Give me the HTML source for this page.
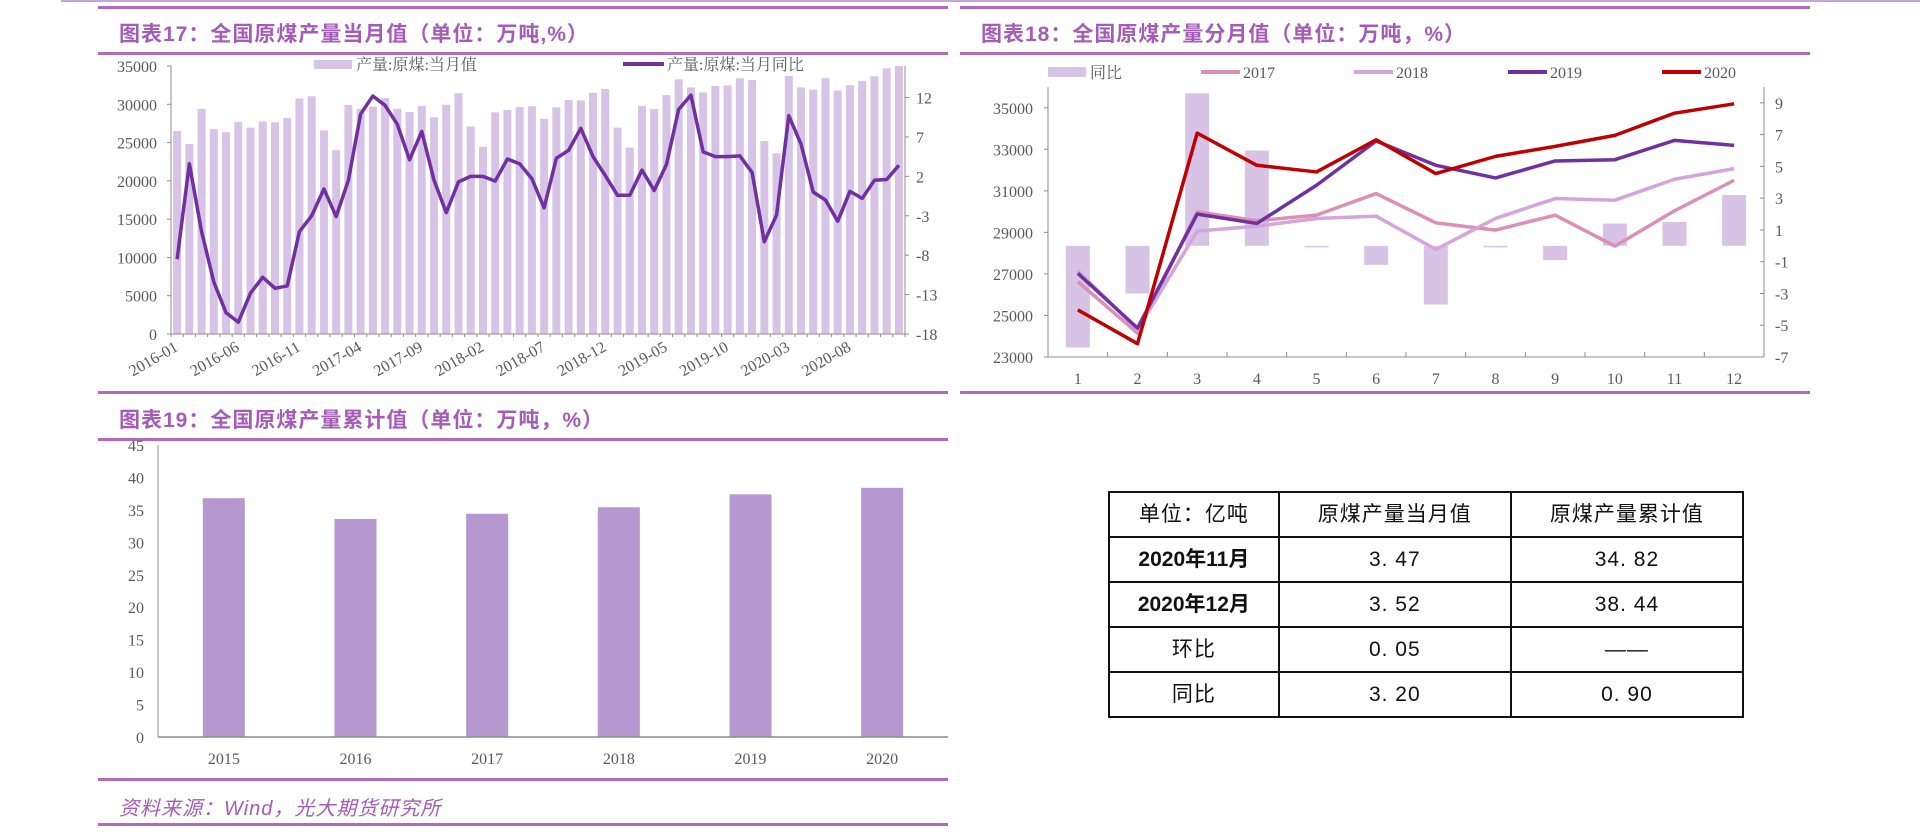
<!DOCTYPE html>
<html><head><meta charset="utf-8">
<style>
html,body{margin:0;padding:0;background:#fff;}
body{width:1920px;height:835px;position:relative;overflow:hidden;font-family:"Liberation Serif","Noto Serif CJK SC",serif;}
.title{position:absolute;color:#a45cb8;font-family:"Liberation Sans","Noto Sans CJK SC",sans-serif;font-size:21px;font-weight:bold;letter-spacing:1px;}
.hl{position:absolute;height:3px;background:#b06ac0;}
table{position:absolute;left:1108px;top:491px;width:636px;border-collapse:collapse;font-family:"Liberation Sans","Noto Sans CJK SC",sans-serif;font-size:21px;}
td{border:2px solid #111;height:43px;line-height:43px;vertical-align:middle;text-align:center;color:#111;padding:0;letter-spacing:1px;}
td.b{font-weight:bold;letter-spacing:0;}
</style></head>
<body>
<div class="hl" style="left:61px;top:0;width:1859px;height:2px;background:#c9a2d6"></div>
<div class="hl" style="left:98px;top:6px;width:850px"></div>
<div class="title" style="left:119px;top:18px">图表17：全国原煤产量当月值（单位：万吨,%）</div>
<div class="hl" style="left:98px;top:52px;width:850px"></div>
<div class="hl" style="left:98px;top:391px;width:850px"></div>

<div class="hl" style="left:960px;top:6px;width:850px"></div>
<div class="title" style="left:981px;top:18px">图表18：全国原煤产量分月值（单位：万吨，%）</div>
<div class="hl" style="left:960px;top:52px;width:850px"></div>
<div class="hl" style="left:960px;top:391px;width:850px"></div>

<div class="title" style="left:119px;top:404px">图表19：全国原煤产量累计值（单位：万吨，%）</div>
<div class="hl" style="left:98px;top:438px;width:850px"></div>
<div class="hl" style="left:98px;top:778px;width:850px"></div>
<div class="title" style="left:119px;top:792px;font-weight:normal;font-style:italic;font-size:20px">资料来源：Wind，光大期货研究所</div>
<div class="hl" style="left:98px;top:823px;width:850px"></div>

<svg id="svg" width="1920" height="835" style="position:absolute;left:0;top:0" xmlns="http://www.w3.org/2000/svg"></svg>

<table>
<tr><td>单位：亿吨</td><td>原煤产量当月值</td><td>原煤产量累计值</td></tr>
<tr><td class="b">2020年11月</td><td>3. 47</td><td>34. 82</td></tr>
<tr><td class="b">2020年12月</td><td>3. 52</td><td>38. 44</td></tr>
<tr><td>环比</td><td>0. 05</td><td>——</td></tr>
<tr><td>同比</td><td>3. 20</td><td>0. 90</td></tr>
</table>

<script>
// Chart 17 data
const c17Values = [26500,24800,29400,26750,26350,27700,26950,27750,27650,28200,30750,31050,
 26600,24000,29900,29400,29700,30800,29400,29000,29800,28300,29950,31450,
 27100,24450,28950,29250,29650,29750,28100,29600,30550,30500,31500,32000,
 26950,24350,29800,29400,31200,33250,32200,31550,32400,32450,33400,33150,
 25200,23600,33700,32200,31900,33400,31800,32500,33050,33650,34700,35000];
const c17Yoy = [-8.5,3.6,-5.0,-11.4,-15.3,-16.5,-12.8,-10.8,-12.2,-11.9,-5.0,-3.0,
 0.4,-3.1,1.5,9.9,12.2,11.0,8.6,4.1,7.7,1.5,-2.6,1.3,
 2.0,2.0,1.4,4.2,3.6,1.7,-2.0,4.3,5.3,8.1,4.5,2.1,
 -0.4,-0.4,2.8,0.2,3.5,10.5,12.3,5.1,4.5,4.5,4.6,2.5,
 -6.3,-2.9,9.7,6.1,0.0,-1.0,-3.7,0.1,-0.8,1.5,1.6,3.4];
const c17XLabels = ["2016-01","2016-06","2016-11","2017-04","2017-09","2018-02","2018-07","2018-12","2019-05","2019-10","2020-03","2020-08"];
const c17LeftTicks = [0,5000,10000,15000,20000,25000,30000,35000];
const c17RightTicks = [-18,-13,-8,-3,2,7,12];
// Chart 18 data
const c18Cats = ["1","2","3","4","5","6","7","8","9","10","11","12"];
const c18Yoy = [-6.4,-3.0,9.6,6.0,-0.1,-1.2,-3.7,-0.1,-0.9,1.4,1.5,3.2];
const c18S2017 = [26630,24150,29990,29560,29830,30870,29460,29110,29830,28340,30040,31510];
const c18S2018 = [27160,24310,29060,29300,29670,29780,28180,29670,30630,30550,31560,32070];
const c18S2019 = [27030,24390,29880,29430,31270,33400,32230,31620,32440,32500,33430,33190];
const c18S2020 = [25270,23640,33780,32230,31910,33460,31830,32660,33140,33670,34740,35190];
const c18LeftTicks = [23000,25000,27000,29000,31000,33000,35000];
const c18RightTicks = [-7,-5,-3,-1,1,3,5,7,9];
// Chart 19 data
const c19Cats = ["2015","2016","2017","2018","2019","2020"];
const c19Values = [36.8,33.6,34.4,35.4,37.4,38.4];
const c19Ticks = [0,5,10,15,20,25,30,35,40,45];

const NS="http://www.w3.org/2000/svg";
const svg=document.getElementById('svg');
function mk(tag,attrs,parent){const e=document.createElementNS(NS,tag);for(const k in attrs)e.setAttribute(k,attrs[k]);(parent||svg).appendChild(e);return e;}
function txt(x,y,s,anchor,size,fill,parent){const t=mk('text',{x:x,y:y,'text-anchor':anchor,'font-size':size,fill:fill||'#595959','font-family':'"Liberation Serif","Noto Serif CJK SC",serif'},parent);t.textContent=s;return t;}
const axisCol='#8c8c8c';

// ===== Chart 17 =====
(function(){
 const L=171,R=905,T=66,B=334;
 const x=i=>L+(R-L)/60*(i+0.5);
 const yL=v=>B-v/35000*(B-T);
 const yR=v=>B-(v+18)/34*(B-T);
 const g=mk('g',{});
 
 
 c17Values.forEach((v,i)=>{
  const r=mk('rect',{x:x(i)-4,y:yL(v),width:8,height:B-yL(v),fill:'#d7c3e5'},g);
  
  
 });
 let a=mk('line',{x1:L,y1:T,x2:L,y2:B,stroke:axisCol},g);
 
 
 a=mk('line',{x1:R,y1:T,x2:R,y2:B,stroke:axisCol},g);
 
 
 a=mk('line',{x1:L,y1:B,x2:R,y2:B,stroke:axisCol},g);
 
 
 for(let i=0;i<=60;i++) mk('line',{x1:L+(R-L)/60*i,y1:B,x2:L+(R-L)/60*i,y2:B+3,stroke:axisCol},g);
 c17LeftTicks.forEach(v=>{mk('line',{x1:L-4,y1:yL(v),x2:L,y2:yL(v),stroke:axisCol},g);
  const t=txt(157,yL(v)+6,String(v),'end',16,'#595959',g);
  
  });
 c17RightTicks.forEach(v=>{mk('line',{x1:R,y1:yR(v),x2:R+4,y2:yR(v),stroke:axisCol},g);
  const t=txt(916,yR(v)+6,String(v),'start',16,'#595959',g);
  
  });
 c17XLabels.forEach((s,k)=>{const i=k*5;const px=x(i)+2,py=350;
  const t=txt(px,py,s,'end',16,'#595959',g);
  t.setAttribute('transform','rotate(-30 '+px+' '+py+')');
  
  });
 const p=mk('polyline',{points:c17Yoy.map((v,i)=>x(i)+','+yR(v)).join(' '),fill:'none',stroke:'#7030a0','stroke-width':3.5,'stroke-linejoin':'round'},g);
 
 
 let l=mk('rect',{x:314,y:60,width:38,height:9,fill:'#d7c3e5'},g);
 
 
 l=txt(356,70,'产量:原煤:当月值','start',16,'#595959',g);
 
 
 l=mk('line',{x1:623,y1:64,x2:664,y2:64,stroke:'#7030a0','stroke-width':4},g);
 
 
 l=txt(667,70,'产量:原煤:当月同比','start',16,'#595959',g);
 
 
})();

// ===== Chart 18 =====
(function(){
 const L=1048,R=1764,T=87,B=357;
 const bw=(R-L)/12;
 const x=i=>L+bw*(i+0.5);
 const yL=v=>B-(v-23000)/13000*(B-T);
 const yR=v=>B-(v+7)/17*(B-T);
 const g=mk('g',{});
 
 
 c18Yoy.forEach((v,i)=>{const y0=yR(0),y1=yR(v);
  const r=mk('rect',{x:x(i)-12,y:Math.min(y0,y1),width:24,height:Math.max(Math.abs(y1-y0),1.5),fill:'#d7c3e5'},g);
  
  });
 let a=mk('line',{x1:L,y1:T,x2:L,y2:B,stroke:axisCol},g);
 
 
 a=mk('line',{x1:R,y1:T,x2:R,y2:B,stroke:axisCol},g);
 
 
 a=mk('line',{x1:L,y1:B,x2:R,y2:B,stroke:axisCol},g);
 
 
 for(let i=0;i<=12;i++) mk('line',{x1:L+bw*i,y1:B,x2:L+bw*i,y2:B-5,stroke:axisCol},g);
 c18LeftTicks.forEach(v=>{mk('line',{x1:L-4,y1:yL(v),x2:L,y2:yL(v),stroke:axisCol},g);
  const t=txt(1033,yL(v)+6,String(v),'end',16,'#595959',g);
  
  });
 c18RightTicks.forEach(v=>{mk('line',{x1:R-4,y1:yR(v),x2:R,y2:yR(v),stroke:axisCol},g);
  const t=txt(1775,yR(v)+6,String(v),'start',16,'#595959',g);
  
  });
 c18Cats.forEach((s,i)=>{const t=txt(x(i),384,s,'middle',16,'#595959',g);
  
  });
 const series=[[c18S2017,'#db8fb6','line-2017'],[c18S2018,'#d3a5dc','line-2018'],[c18S2019,'#7030a0','line-2019'],[c18S2020,'#c00000','line-2020']];
 series.forEach(s=>{const p=mk('polyline',{points:s[0].map((v,i)=>x(i)+','+yL(v)).join(' '),fill:'none',stroke:s[1],'stroke-width':3.5,'stroke-linejoin':'round'},g);
  
  });
 let l=mk('rect',{x:1048,y:67,width:38,height:10,fill:'#d7c3e5'},g);
 
 
 l=txt(1090,78,'同比','start',16,'#595959',g);
 
 
 const leg=[[1201,'#db8fb6','2017'],[1354,'#d3a5dc','2018'],[1508,'#7030a0','2019'],[1662,'#c00000','2020']];
 leg.forEach(o=>{let s=mk('line',{x1:o[0],y1:72,x2:o[0]+39,y2:72,stroke:o[1],'stroke-width':4},g);
  
  
  let t=txt(o[0]+42,78,o[2],'start',16,'#595959',g);
  
  });
})();

// ===== Chart 19 =====
(function(){
 const L=158,R=948,T=445,B=737;
 const bw=(R-L)/6;
 const x=i=>L+bw*(i+0.5);
 const y=v=>B-v/45*(B-T);
 const g=mk('g',{});
 
 
 c19Values.forEach((v,i)=>{const r=mk('rect',{x:x(i)-21,y:y(v),width:42,height:B-y(v),fill:'#b598cf'},g);
  
  });
 let a=mk('line',{x1:L,y1:T,x2:L,y2:B,stroke:axisCol},g);
 
 
 a=mk('line',{x1:L,y1:B,x2:R,y2:B,stroke:axisCol,'stroke-width':1.5},g);
 
 
 c19Ticks.forEach(v=>{const t=txt(144,y(v)+6,String(v),'end',16,'#595959',g);
  
  });
 c19Cats.forEach((s,i)=>{const t=txt(x(i),764,s,'middle',16,'#595959',g);
  
  });
})();
</script>
</body></html>
